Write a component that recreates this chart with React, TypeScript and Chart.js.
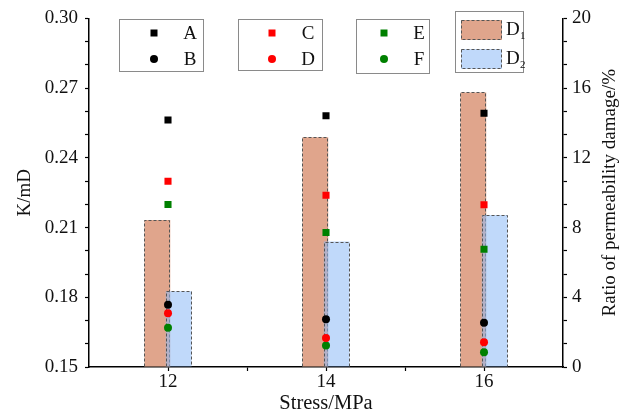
import React, { useEffect, useRef } from 'react';
import { Chart, registerables } from 'chart.js';

Chart.register(...registerables);

// ---------- data ----------
const stress = [12, 14, 16];
const seriesA = [0.2563, 0.2581, 0.2592];
const seriesB = [0.1768, 0.1705, 0.169];
const seriesC = [0.2299, 0.2239, 0.2198];
const seriesD = [0.1731, 0.1625, 0.1606];
const seriesE = [0.2199, 0.2079, 0.2007];
const seriesF = [0.1669, 0.1592, 0.1564];
const damageD1 = [8.44, 13.18, 15.75];
const damageD2 = [4.34, 7.2, 8.72];

const leftTicks = [0.15, 0.18, 0.21, 0.24, 0.27, 0.3];
const rightTicks = [0, 4, 8, 12, 16, 20];
const xTicks = [12, 14, 16];

const SERIF = '"Liberation Serif", "Times New Roman", serif';
const D1_COLOR = '#e0a58c';
const D2_COLOR = 'rgba(140,185,245,0.55)';

function withMinors(major: number[], parts: number): number[] {
  const out: number[] = [];
  for (let i = 0; i < major.length; i++) {
    out.push(major[i]);
    if (i < major.length - 1) {
      for (let k = 1; k < parts; k++) {
        out.push(major[i] + ((major[i + 1] - major[i]) * k) / parts);
      }
    }
  }
  return out;
}
const isMajor = (v: number, major: number[]) => major.some((m) => Math.abs(m - v) < 1e-9);

const pts = (arr: number[]) => stress.map((x, i) => ({ x, y: arr[i] }));

function strokeBars(chart: any, index: number) {
  const meta = chart.getDatasetMeta(index);
  const ctx = chart.ctx;
  ctx.save();
  ctx.setLineDash([3, 2]);
  ctx.strokeStyle = '#555';
  ctx.lineWidth = 1;
  meta.data.forEach((el: any) => {
    const { x, y, base, width } = el.getProps(['x', 'y', 'base', 'width'], true);
    const l = Math.round(x - width / 2) + 0.5;
    const r = Math.round(x + width / 2) - 0.5;
    const t = Math.round(y) + 0.5;
    ctx.beginPath();
    ctx.moveTo(l, base);
    ctx.lineTo(l, t);
    ctx.lineTo(r, t);
    ctx.lineTo(r, base);
    ctx.stroke();
  });
  ctx.restore();
}

const barOrderPlugin = {
  id: 'barOrder',
  beforeDatasetDraw(chart: any, args: any) {
    if (args.index === 1) return false;
    return true;
  },
  afterDatasetDraw(chart: any, args: any) {
    if (args.index === 0) {
      const ctx = chart.ctx;
      const a = chart.chartArea;
      strokeBars(chart, 0);
      ctx.save();
      ctx.beginPath();
      ctx.rect(a.left, a.top, a.right - a.left, a.bottom - a.top);
      ctx.clip();
      chart.getDatasetMeta(1).controller.draw();
      ctx.restore();
      strokeBars(chart, 1);
    }
  },
};

const legendGroups = [
  { labels: ['A', 'B'], color: '#000000', box: [119, 19, 84, 52], marker: 154, text: 190 },
  { labels: ['C', 'D'], color: '#ff0000', box: [238, 19, 84, 51], marker: 272, text: 308 },
  { labels: ['E', 'F'], color: '#008000', box: [356, 19, 73, 54], marker: 384, text: 419 },
];

const decorPlugin = {
  id: 'decor',
  afterDraw(chart: any) {
    const ctx = chart.ctx;
    ctx.save();
    ctx.font = `19px ${SERIF}`;
    ctx.fillStyle = '#111';
    ctx.textBaseline = 'middle';
    ctx.textAlign = 'center';
    const rowY = [33, 59];
    legendGroups.forEach((g) => {
      const [bx, by, bw, bh] = g.box;
      ctx.strokeStyle = '#8a8a8a';
      ctx.lineWidth = 1;
      ctx.strokeRect(bx + 0.5, by + 0.5, bw, bh);
      ctx.fillStyle = g.color;
      ctx.fillRect(g.marker - 3.5, rowY[0] - 3.5, 7, 7);
      ctx.beginPath();
      ctx.arc(g.marker, rowY[1], 4, 0, Math.PI * 2);
      ctx.fill();
      ctx.fillStyle = '#111';
      ctx.fillText(g.labels[0], g.text, rowY[0] + 1);
      ctx.fillText(g.labels[1], g.text, rowY[1] + 1);
    });
    // bar legend
    ctx.strokeStyle = '#8a8a8a';
    ctx.strokeRect(455.5, 11.5, 68, 61);
    const sw = [
      { y: 20, color: D1_COLOR, sub: '1' },
      { y: 49, color: D2_COLOR, sub: '2' },
    ];
    sw.forEach((s) => {
      ctx.fillStyle = '#fff';
      ctx.fillRect(461, s.y, 41, 20);
      ctx.fillStyle = s.color;
      ctx.fillRect(461, s.y, 41, 20);
      ctx.save();
      ctx.setLineDash([3, 2]);
      ctx.strokeStyle = '#555';
      ctx.strokeRect(461.5, s.y + 0.5, 40, 19);
      ctx.restore();
      ctx.fillStyle = '#111';
      ctx.textAlign = 'left';
      ctx.font = `19px ${SERIF}`;
      ctx.fillText('D', 506, s.y + 10);
      ctx.font = `11px ${SERIF}`;
      ctx.fillText(s.sub, 520, s.y + 16);
    });
    // right axis title, reading upward
    ctx.font = `19px ${SERIF}`;
    ctx.textAlign = 'center';
    ctx.textBaseline = 'middle';
    ctx.translate(610, (chart.chartArea.top + chart.chartArea.bottom) / 2);
    ctx.rotate(-Math.PI / 2);
    ctx.fillText('Ratio of permeability damage/%', 0, 0);
    ctx.restore();
  },
};

export default function App() {
  const ref = useRef<HTMLCanvasElement>(null);

  useEffect(() => {
    if (!ref.current) return;
    const tickFont = { family: SERIF, size: 19 };
    const scatter = (label: string, arr: number[], color: string, style: string) => ({
      type: 'scatter' as const,
      label,
      data: pts(arr),
      yAxisID: 'y',
      xAxisID: 'x',
      pointStyle: style,
      pointRadius: style === 'rect' ? 5 : 4,
      pointHoverRadius: style === 'rect' ? 5 : 4,
      backgroundColor: color,
      borderColor: color,
      borderWidth: 0,
      order: 0,
    });
    const chart = new Chart(ref.current, {
      type: 'bar',
      data: {
        datasets: [
          {
            type: 'bar',
            label: 'D1',
            data: pts(damageD1),
            yAxisID: 'y2',
            xAxisID: 'x',
            backgroundColor: D1_COLOR,
            borderWidth: 0,
            categoryPercentage: 0.54,
            barPercentage: 1.21,
            order: 1,
          },
          {
            type: 'bar',
            label: 'D2',
            data: pts(damageD2),
            yAxisID: 'y2',
            xAxisID: 'x',
            backgroundColor: D2_COLOR,
            borderWidth: 0,
            categoryPercentage: 0.54,
            barPercentage: 1.21,
            order: 2,
          },
          scatter('A', seriesA, '#000000', 'rect'),
          scatter('B', seriesB, '#000000', 'circle'),
          scatter('C', seriesC, '#ff0000', 'rect'),
          scatter('D', seriesD, '#ff0000', 'circle'),
          scatter('E', seriesE, '#008000', 'rect'),
          scatter('F', seriesF, '#008000', 'circle'),
        ] as any,
      },
      options: {
        animation: false,
        responsive: false,
        events: [],
        layout: { padding: { top: 18, left: 0, right: 0, bottom: 0 } },
        plugins: { legend: { display: false }, tooltip: { enabled: false } },
        scales: {
          x: {
            type: 'linear',
            min: 11,
            max: 17,
            offset: false,
            afterBuildTicks: (s: any) => {
              s.ticks = withMinors(xTicks, 2).map((v) => ({ value: v }));
            },
            afterFit: (s: any) => {
              s.height = 47;
            },
            ticks: {
              autoSkip: false,
              maxRotation: 0,
              padding: 0,
              color: '#111',
              font: tickFont,
              callback: (v: any) => (isMajor(Number(v), xTicks) ? String(v) : ''),
            },
            grid: { drawOnChartArea: false, tickLength: 4, color: '#000', offset: false, tickWidth: 1.2 },
            border: { display: true, color: '#000', width: 1.5 },
            title: {
              display: true,
              text: 'Stress/MPa',
              color: '#111',
              font: { family: SERIF, size: 20.5, lineHeight: 1 },
              padding: { top: 0, bottom: 0 },
            },
          },
          y: {
            type: 'linear',
            position: 'left',
            min: 0.15,
            max: 0.3,
            afterBuildTicks: (s: any) => {
              s.ticks = withMinors(leftTicks, 3).map((v) => ({ value: v }));
            },
            afterFit: (s: any) => {
              s.width = 89;
            },
            ticks: {
              autoSkip: false,
              padding: 7,
              color: '#111',
              font: tickFont,
              callback: (v: any) => (isMajor(Number(v), leftTicks) ? Number(v).toFixed(2) : ''),
            },
            grid: { drawOnChartArea: false, tickLength: 4, color: '#000', tickWidth: 1.2 },
            border: { display: true, color: '#000', width: 1.5 },
            title: {
              display: true,
              text: 'K/mD',
              color: '#111',
              font: { family: SERIF, size: 19, lineHeight: 1 },
              padding: { top: 16, bottom: 0 },
            },
          },
          y2: {
            type: 'linear',
            position: 'right',
            min: 0,
            max: 20,
            afterBuildTicks: (s: any) => {
              s.ticks = withMinors(rightTicks, 3).map((v) => ({ value: v }));
            },
            afterFit: (s: any) => {
              s.width = 64;
            },
            ticks: {
              autoSkip: false,
              padding: 5,
              color: '#111',
              font: tickFont,
              callback: (v: any) => (isMajor(Number(v), rightTicks) ? String(Math.round(Number(v))) : ''),
            },
            grid: { drawOnChartArea: false, tickLength: 4, color: '#000', tickWidth: 1.2 },
            border: { display: true, color: '#000', width: 1.5 },
          },
        },
      } as any,
      plugins: [barOrderPlugin, decorPlugin],
    });
    return () => chart.destroy();
  }, []);

  return (
    <div style={{ position: 'fixed', left: 0, top: 0, width: 627, height: 414, background: '#fff' }}>
      <canvas ref={ref} width={627} height={414} style={{ width: 627, height: 414 }} />
    </div>
  );
}
